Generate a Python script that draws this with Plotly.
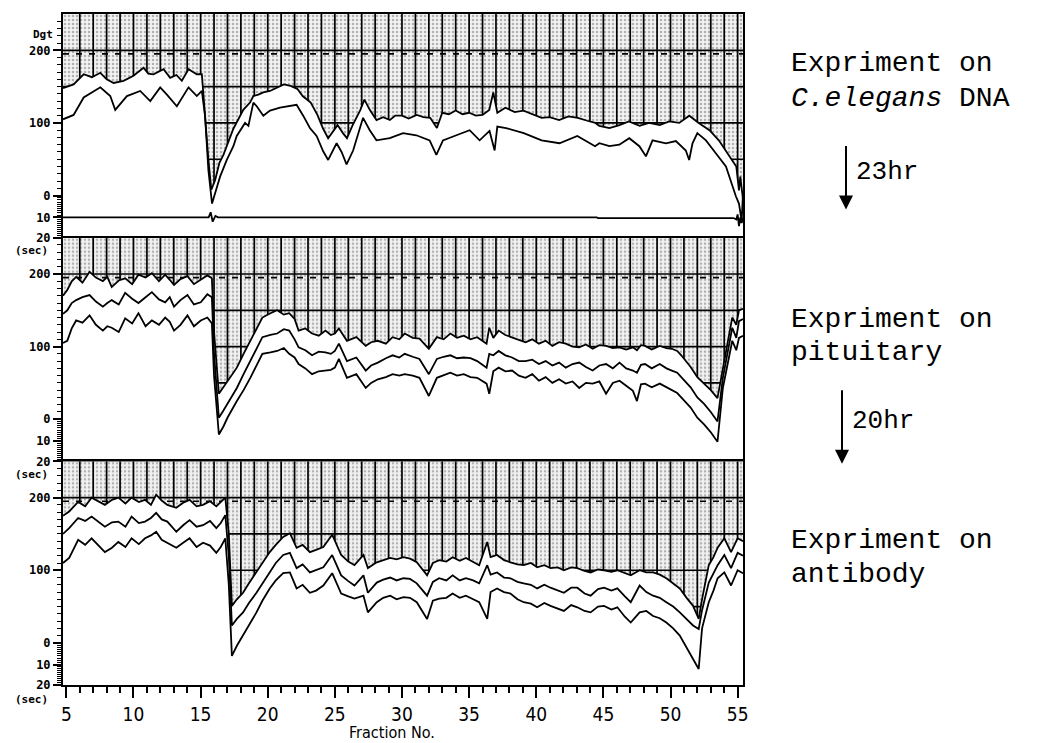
import plotly.graph_objects as go
from plotly.subplots import make_subplots

# ---------------- data (fraction No. vs signal, Dgt; sec region mapped below 0) -------------
P1_UP_X = [4.75, 5.54, 6.29, 6.9, 7.53, 8.0, 8.52, 9.26, 10.0, 10.75,
           11.1, 11.49, 12.24, 12.73, 13.2, 13.6, 14.1, 14.72, 15.09, 15.33,
           15.58, 15.8, 16.08, 16.4, 16.7, 17.44, 18.18, 18.68, 18.93, 19.3,
           19.67, 20.17, 20.7, 21.2, 21.7, 22.2, 22.6, 23.2, 23.7, 24.1,
           24.5, 24.9, 25.2, 25.6, 25.9, 26.3, 26.9, 27.2, 27.6, 28.1,
           28.6, 29.1, 29.5, 30.0, 30.5, 31.1, 31.6, 32.1, 32.6, 33.0,
           33.5, 34.0, 34.5, 35.0, 35.5, 36.0, 36.5, 36.8, 37.1, 37.7,
           38.4, 39.05, 39.7, 40.4, 41.0, 41.7, 42.4, 43.1, 43.8, 44.4,
           44.7, 45.45, 46.2, 46.9, 47.7, 48.4, 49.2, 49.9, 50.65, 51.4,
           52.1, 52.9, 53.6, 54.4, 54.9, 55.1, 55.2, 55.3, 55.4]
P1_UP_Y = [148, 153, 167, 163, 169, 160, 155, 158, 165, 176,
           168, 167, 174, 162, 166, 158, 174, 167, 167, 104,
           49, 8, 21, 45, 56, 92, 118, 128, 137, 139,
           142, 144, 149, 153, 151, 147, 137, 128, 111, 93,
           79, 89, 97, 86, 79, 96, 118, 132, 118, 104,
           108, 104, 110, 110, 106, 111, 108, 107, 93, 114,
           112, 117, 112, 114, 110, 111, 118, 142, 114, 121,
           115, 117, 112, 107, 108, 104, 109, 107, 103, 100,
           96, 93, 97, 102, 96, 100, 97, 102, 100, 110,
           100, 90, 76, 54, 40, 7, 26, 10, -5]
P1_LO_X = [4.75, 5.54, 6.29, 7.53, 8.27, 8.64, 9.51, 10.5, 11.25, 11.99,
           12.49, 13.23, 14.1, 14.72, 15.09, 15.33, 15.58, 15.85, 16.45, 16.95,
           17.44, 17.69, 18.31, 18.56, 18.93, 19.18, 19.67, 20.17, 20.91, 21.65,
           22.15, 22.64, 23.14, 23.64, 24.13, 24.5, 25.13, 25.5, 25.87, 26.36,
           27.1, 27.6, 28.1, 29.09, 30.08, 31.07, 32.06, 32.56, 33.05, 34.05,
           35.04, 35.78, 36.52, 36.9, 37.1, 37.75, 39.07, 40.4, 41.73, 43.06,
           44.38, 44.7, 45.45, 46.19, 46.93, 47.68, 48.17, 48.66, 49.66, 50.4,
           51.14, 51.39, 51.64, 52.0, 52.64, 53.39, 54.13, 54.87, 55.1, 55.3,
           55.4]
P1_LO_Y = [105, 111, 135, 149, 137, 118, 137, 144, 130, 149,
           139, 123, 149, 137, 144, 110, 35, -11, 26, 49,
           68, 82, 100, 96, 128, 123, 110, 117, 121, 123,
           125, 110, 93, 82, 61, 49, 72, 60, 43, 62,
           107, 90, 76, 79, 86, 83, 76, 56, 76, 83,
           90, 76, 89, 62, 95, 93, 86, 76, 72, 82,
           68, 72, 68, 70, 79, 68, 54, 76, 72, 75,
           62, 49, 72, 86, 76, 58, 40, -1, -11, -35,
           3]
P1_SEC_X = [4.75, 15.6, 15.75, 15.9, 16.1, 16.3, 44.5, 44.6, 54.7, 54.9, 55.0, 55.1, 55.2, 55.3, 55.4]
P1_SEC_Y = [-30, -30, -23, -36, -28, -30, -30, -31, -31, -33, -26, -42, -30, -38, -31]

P2_X = [4.75, 5.07, 5.4, 5.73, 6.2, 6.73, 7.2, 7.72, 8.05, 8.38,
        8.9, 9.38, 9.9, 10.37, 10.9, 11.37, 11.9, 12.36, 12.7, 13.02,
        13.5, 14.02, 14.5, 15.01, 15.5, 15.84, 16.0, 16.36, 16.7, 17.0,
        17.7, 18.2, 18.7, 19.2, 19.6, 20.2, 20.7, 21.2, 21.6, 22.0,
        22.3, 22.8, 23.3, 23.8, 24.3, 24.7, 25.0, 25.3, 25.9, 26.6,
        27.3, 27.7, 28.2, 28.8, 29.3, 29.8, 30.2, 30.8, 31.3, 32.0,
        32.6, 33.1, 33.6, 34.1, 34.6, 35.1, 35.6, 36.3, 36.5, 36.8,
        37.2, 37.7, 38.2, 38.7, 39.2, 39.7, 40.2, 40.7, 41.2, 41.7,
        42.2, 42.7, 43.2, 43.7, 44.2, 44.7, 45.2, 45.7, 46.2, 46.7,
        47.2, 47.5, 47.8, 48.1, 48.6, 49.2, 49.7, 50.1, 50.5, 50.8,
        51.5, 52.0, 52.5, 53.0, 53.5, 53.9, 54.3, 54.6, 54.9, 55.1,
        55.4]
P2_UP = [170, 178, 190, 196, 188, 203, 195, 190, 196, 182,
         191, 194, 186, 199, 195, 201, 190, 199, 192, 185,
         193, 197, 186, 192, 198, 194, 120, 35, 44, 53,
         71, 90, 108, 125, 140, 146, 150, 144, 146, 138,
         122, 125, 118, 115, 122, 116, 118, 125, 108, 113,
         101, 106, 108, 104, 113, 110, 118, 112, 111, 97,
         113, 110, 118, 112, 115, 110, 113, 104, 126, 112,
         122, 116, 113, 110, 106, 110, 104, 108, 101, 106,
         104, 100, 99, 103, 97, 102, 101, 98, 99, 96,
         99, 95, 102, 101, 96, 101, 98, 97, 94, 88,
         72, 58, 49, 40, 29, 67, 110, 140, 130, 150,
         152]
P2_MID = [145, 150, 160, 164, 168, 171, 162, 155, 160, 164,
          158, 174, 166, 160, 168, 175, 165, 161, 168, 155,
          164, 171, 158, 161, 172, 168, 90, 2, 12, 21,
          43, 62, 80, 98, 113, 116, 118, 124, 122, 110,
          99, 95, 88, 93, 92, 90, 94, 104, 80, 85,
          67, 74, 78, 84, 88, 85, 90, 86, 83, 62,
          83, 86, 88, 84, 85, 84, 80, 71, 90, 88,
          94, 88, 85, 80, 80, 82, 76, 80, 74, 78,
          71, 76, 78, 72, 67, 74, 76, 70, 78, 70,
          67, 64, 75, 76, 70, 76, 70, 67, 64, 58,
          44, 30, 21, 10, -3, 57, 95, 126, 112, 135,
          138]
P2_LO = [105, 108, 125, 136, 133, 143, 130, 122, 128, 126,
         120, 139, 132, 146, 128, 136, 130, 140, 134, 122,
         130, 143, 128, 136, 140, 132, 60, -21, -10, 2,
         25, 40, 57, 75, 90, 92, 94, 98, 90, 85,
         76, 70, 62, 66, 67, 68, 71, 83, 57, 62,
         43, 50, 55, 58, 62, 60, 62, 60, 57, 32,
         57, 60, 64, 60, 62, 58, 57, 49, 35, 66,
         71, 66, 67, 60, 57, 62, 53, 58, 50, 55,
         49, 52, 43, 50, 49, 52, 35, 50, 53, 46,
         39, 25, 48, 49, 44, 49, 44, 39, 36, 30,
         16, 2, -7, -18, -31, 43, 80, 108, 95, 112,
         115]

P3_X = [4.75, 5.21, 5.88, 6.4, 6.88, 7.4, 7.87, 8.4, 8.87, 9.4,
        9.86, 10.4, 10.86, 11.3, 11.69, 12.1, 12.52, 13.19, 13.7, 14.18,
        14.7, 15.18, 15.7, 16.17, 16.5, 16.84, 17.1, 17.33, 17.7, 18.16,
        18.6, 19.16, 19.6, 20.15, 20.6, 21.15, 21.65, 22.15, 22.6, 23.14,
        23.6, 24.14, 24.8, 25.47, 26.0, 26.46, 27.13, 27.46, 28.12, 28.6,
        29.12, 29.6, 30.11, 30.6, 31.1, 31.87, 32.3, 32.77, 33.3, 33.77,
        34.3, 34.76, 35.3, 35.75, 36.35, 36.6, 37.08, 37.6, 38.08, 38.6,
        39.07, 39.6, 40.07, 40.6, 41.06, 41.6, 42.06, 42.6, 43.06, 43.6,
        44.05, 44.6, 45.05, 45.6, 46.04, 46.6, 47.04, 47.7, 48.2, 48.7,
        49.2, 49.69, 50.2, 50.69, 51.2, 51.68, 52.1, 52.35, 52.85, 53.2,
        53.51, 54.01, 54.51, 55.0, 55.4]
P3_UP = [175, 181, 194, 188, 200, 195, 190, 197, 200, 192,
         200, 194, 197, 190, 204, 196, 190, 186, 193, 197,
         188, 190, 195, 188, 194, 200, 150, 51, 60, 69,
         82, 97, 110, 125, 135, 146, 151, 131, 135, 125,
         128, 132, 149, 121, 112, 107, 121, 103, 111, 114,
         117, 115, 118, 116, 111, 93, 110, 114, 112, 118,
         113, 117, 111, 107, 139, 118, 121, 114, 111, 108,
         107, 110, 104, 107, 103, 104, 100, 104, 103, 99,
         97, 101, 100, 98, 100, 96, 93, 100, 97, 97,
         94, 89, 82, 75, 62, 51, 33, 60, 107, 118,
         131, 144, 125, 144, 140]
P3_MID = [150, 158, 172, 168, 174, 166, 160, 166, 167, 160,
          174, 165, 167, 172, 179, 170, 167, 153, 162, 169,
          160, 162, 168, 158, 165, 176, 120, 24, 33, 42,
          55, 69, 82, 97, 110, 121, 124, 103, 108, 97,
          100, 104, 121, 93, 85, 79, 93, 69, 83, 87,
          90, 86, 89, 88, 82, 65, 84, 89, 86, 93,
          86, 89, 86, 82, 107, 94, 97, 90, 89, 84,
          82, 80, 75, 80, 76, 72, 69, 76, 76, 68,
          65, 74, 76, 72, 75, 64, 56, 79, 70, 65,
          62, 56, 50, 42, 33, 24, 19, 45, 83, 96,
          107, 121, 103, 124, 120]
P3_LO = [110, 117, 142, 135, 144, 134, 125, 131, 139, 132,
         144, 136, 144, 148, 153, 142, 138, 131, 138, 144,
         132, 138, 134, 124, 132, 144, 80, -18, -4, 10,
         25, 42, 58, 75, 86, 96, 97, 75, 80, 69,
         72, 79, 96, 68, 64, 61, 65, 42, 56, 62,
         65, 60, 63, 62, 56, 33, 58, 61, 62, 68,
         62, 65, 60, 56, 33, 70, 75, 70, 68, 60,
         56, 54, 49, 55, 51, 47, 44, 52, 49, 44,
         42, 50, 51, 46, 49, 36, 28, 42, 44, 37,
         34, 28, 20, 10, -6, -22, -36, 20, 56, 72,
         89, 97, 79, 100, 96]

RIGHT_TEXT = [("Expriment on", 62), ("<i>C.elegans</i> DNA", 97),
              ("Expriment on", 318), ("pituitary", 352),
              ("Expriment on", 540), ("antibody", 574)]
INTERVALS = [("23hr", 846, 143, 208, 170), ("20hr", 842, 388, 463, 420)]
Y_TICKVALS = [200, 100, 0, -30, -58]
Y_TICKTEXT = ["200", "100", "0", "10", "20"]
X_TICKVALS = [5, 10, 15, 20, 25, 30, 35, 40, 45, 50, 55]

# ---------------- styling / geometry ----------------
TOP, BOT = 250, -58
XMIN, XMAX = 4.75, 55.4
W, H = 1037, 743
L, R, T, B = 63, 743, 12, 685

fig = make_subplots(rows=3, cols=1, shared_xaxes=True, vertical_spacing=0)


def grid_segments():
    xs, ys = [], []
    for lv in [200, 150, 100, 50]:
        xs += [XMIN, XMAX, None]
        ys += [lv, lv, None]
    for k in range(6, 56):
        xs += [k, k, None]
        ys += [BOT, TOP, None]
    return xs, ys


def add_panel(row, x_up, y_up, lines):
    # shaded (stippled) region between top of panel and upper curve
    fig.add_trace(go.Scatter(x=[XMIN, XMAX], y=[TOP, TOP], mode="lines",
                             line=dict(width=0), hoverinfo="skip", showlegend=False), row=row, col=1)
    fig.add_trace(go.Scatter(x=x_up, y=y_up, mode="lines", line=dict(width=0),
                             fill="tonexty", fillcolor="#eeeeee",
                             fillpattern=dict(shape=".", fgcolor="#707070", bgcolor="#f2f2f2",
                                              size=4, solidity=0.3),
                             hoverinfo="skip", showlegend=False), row=row, col=1)
    gx, gy = grid_segments()
    fig.add_trace(go.Scatter(x=gx, y=gy, mode="lines", line=dict(color="black", width=1.7),
                             hoverinfo="skip", showlegend=False), row=row, col=1)
    fig.add_trace(go.Scatter(x=[XMIN, XMAX], y=[195, 195], mode="lines",
                             line=dict(color="black", width=1.7, dash="6px,7px"),
                             hoverinfo="skip", showlegend=False), row=row, col=1)
    # white area below upper curve
    fig.add_trace(go.Scatter(x=[XMIN, XMAX], y=[BOT, BOT], mode="lines",
                             line=dict(width=0), hoverinfo="skip", showlegend=False), row=row, col=1)
    fig.add_trace(go.Scatter(x=x_up, y=y_up, mode="lines", line=dict(width=0),
                             fill="tonexty", fillcolor="white",
                             hoverinfo="skip", showlegend=False), row=row, col=1)
    for lx, ly in lines:
        fig.add_trace(go.Scatter(x=lx, y=ly, mode="lines",
                                 line=dict(color="black", width=1.8),
                                 showlegend=False), row=row, col=1)


add_panel(1, P1_UP_X, P1_UP_Y, [(P1_UP_X, P1_UP_Y), (P1_LO_X, P1_LO_Y), (P1_SEC_X, P1_SEC_Y)])
add_panel(2, P2_X, P2_UP, [(P2_X, P2_UP), (P2_X, P2_MID), (P2_X, P2_LO)])
add_panel(3, P3_X, P3_UP, [(P3_X, P3_UP), (P3_X, P3_MID), (P3_X, P3_LO)])

minor_y = [v for v in range(10, 250, 10) if v not in (100, 200)]
minor_y += [-3 * s for s in range(1, 10)] + [-30 - 2.8 * (s - 10) for s in range(11, 20)]

for r in (1, 2, 3):
    fig.update_yaxes(range=[BOT, TOP], tickmode="array", tickvals=Y_TICKVALS, ticktext=Y_TICKTEXT,
                     ticks="outside", ticklen=8, tickwidth=1.5, tickcolor="black",
                     minor=dict(tickvals=minor_y, ticks="outside", ticklen=4, tickwidth=1, tickcolor="black"),
                     showline=True, linecolor="black", linewidth=2, mirror=True,
                     showgrid=False, zeroline=False,
                     tickfont=dict(family="DejaVu Sans Mono", size=12, color="black", weight="bold"),
                     row=r, col=1)
    fig.update_xaxes(range=[XMIN, XMAX], showline=True, linecolor="black", linewidth=2, mirror=True,
                     showgrid=False, zeroline=False, row=r, col=1)

fig.update_xaxes(tickmode="array", tickvals=X_TICKVALS, ticks="outside", ticklen=11, tickwidth=2,
                 tickcolor="black", showticklabels=True,
                 minor=dict(dtick=1, tick0=5, ticks="outside", ticklen=6, tickwidth=1.5, tickcolor="black"),
                 tickfont=dict(family="Liberation Sans Narrow, DejaVu Sans Condensed, Liberation Sans",
                               size=19, color="black"),
                 row=3, col=1)


def px(x):
    return (x - L) / (R - L)


def py(y):
    return 1 - (y - T) / (B - T)


ann = []
ann.append(dict(text="Dgt", x=px(55), y=py(33), xanchor="right", yanchor="middle", showarrow=False,
                font=dict(family="DejaVu Sans Mono", size=11, color="black", weight="bold")))
for yy in (249, 474, 700):
    ann.append(dict(text="(sec)", x=px(50), y=py(yy), xanchor="right", yanchor="middle", showarrow=False,
                    font=dict(family="DejaVu Sans Mono", size=11, color="black", weight="bold")))
for txt, yy in RIGHT_TEXT:
    ann.append(dict(text=txt, x=px(789), y=py(yy), xanchor="left", yanchor="middle", showarrow=False,
                    font=dict(family="Liberation Mono", size=28, color="black")))
for txt, ax_, y0, y1, ty in INTERVALS:
    ann.append(dict(text="", x=px(ax_), y=py(y1), ax=0, ay=-(y1 - y0), axref="pixel", ayref="pixel",
                    showarrow=True, arrowhead=2, arrowsize=1.4,
                    arrowwidth=2, arrowcolor="black"))
    ann.append(dict(text=txt, x=px(ax_ + 8), y=py(ty), xanchor="left", yanchor="middle", showarrow=False,
                    font=dict(family="Liberation Mono", size=26, color="black")))
ann.append(dict(text="Fraction No.", x=px(392), y=py(733), xanchor="center", yanchor="middle",
                showarrow=False,
                font=dict(family="Liberation Sans Narrow, DejaVu Sans Condensed, Liberation Sans",
                          size=16, color="black")))
for a in ann:
    a.setdefault("xref", "paper")
    a.setdefault("yref", "paper")

fig.update_layout(width=W, height=H, margin=dict(l=L, r=W - R, t=T, b=H - B),
                  paper_bgcolor="white", plot_bgcolor="white", annotations=ann,
                  showlegend=False)

fig.write_html("out.html")
